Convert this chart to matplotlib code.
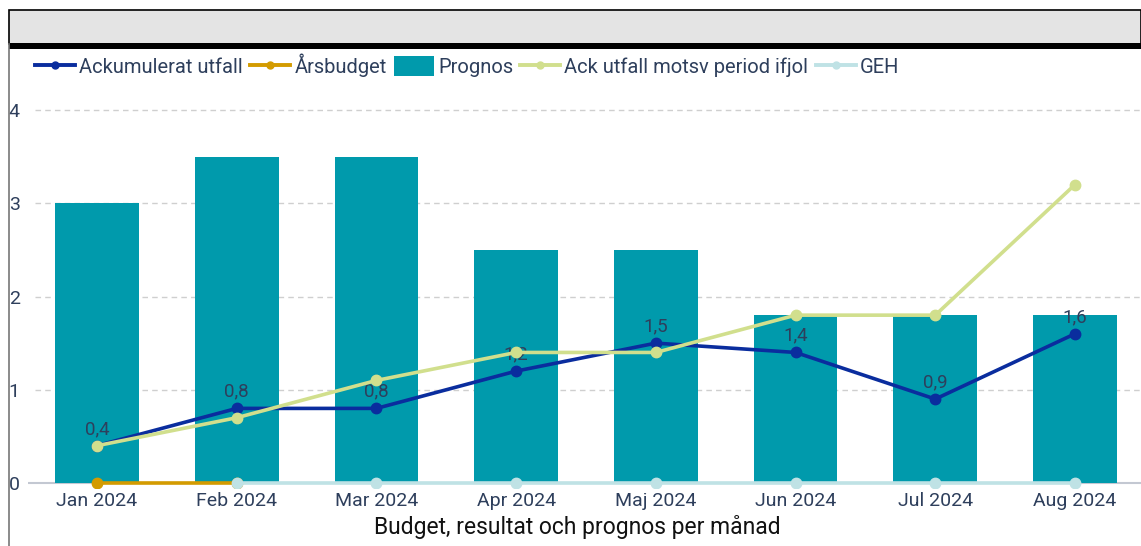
import matplotlib
matplotlib.use("Agg")
import matplotlib.pyplot as plt
import numpy as np
from matplotlib.patches import Rectangle
from matplotlib.lines import Line2D

plt.rcParams['font.family'] = ['Roboto', 'DejaVu Sans']

months = ["Jan 2024", "Feb 2024", "Mar 2024", "Apr 2024", "Maj 2024", "Jun 2024", "Jul 2024", "Aug 2024"]
ack_utfall = [0.4, 0.8, 0.8, 1.2, 1.5, 1.4, 0.9, 1.6]
arsbudget = [0, 0, np.nan, np.nan, np.nan, np.nan, np.nan, np.nan]
prognos = [3.0, 3.5, 3.5, 2.5, 2.5, 1.8, 1.8, 1.8]
ack_ifjol = [0.4, 0.7, 1.1, 1.4, 1.4, 1.8, 1.8, 3.2]
geh = [np.nan, 0, 0, 0, 0, 0, 0, 0]

c_navy = "#0a2d9e"
c_gold = "#d39b00"
c_teal = "#009aac"
c_lime = "#d1df8d"
c_lblue = "#bfe2e5"
c_text = "#2e3f5c"

W, H = 1141, 546
fig = plt.figure(figsize=(W / 100, H / 100), dpi=100)

# header box
fig.patches.append(Rectangle((9 / W, 1 - 44 / H), (W - 9) / W, 34 / H, transform=fig.transFigure,
                             facecolor="#e4e4e4", edgecolor="black", linewidth=1.2, zorder=0))
fig.patches.append(Rectangle((9 / W, 1 - 49 / H), (W - 9) / W, 6 / H, transform=fig.transFigure,
                             facecolor="black", edgecolor="none", zorder=1))
fig.lines.append(Line2D([8.5 / W, 8.5 / W], [0, 1 - 44 / H], transform=fig.transFigure,
                        color="#777777", linewidth=1.2))

# axes: y=0 at 483px, y=4 at 110px
y0, y4 = 483, 110
ppu = (y0 - y4) / 4
ymin, ymax = -0.05, 4.1
ax_bottom = y0 + (0 - ymin) * ppu
ax_top = y0 - ymax * ppu
ax_left, ax_right = 28, 1141
ax = fig.add_axes([ax_left / W, 1 - ax_bottom / H, (ax_right - ax_left) / W, (ax_bottom - ax_top) / H])

x = np.arange(len(months))
sp = (1075 - 97) / 7
xmin = -(97 - ax_left) / sp
xmax = 7 + (ax_right - 1075) / sp
ax.set_xlim(xmin, xmax)
ax.set_ylim(ymin, ymax)

ax.bar(x, prognos, width=0.6, color=c_teal, zorder=2)
ax.axhline(0, color="#c3c8d2", linewidth=1.5, zorder=1.5, xmin=0.0)

mk = dict(marker="o", markersize=7.5, linewidth=2.6)
ax.plot(x, arsbudget, color=c_gold, zorder=4, **mk)
ax.plot(x, geh, color=c_lblue, zorder=4.5, **mk)
ax.plot(x, ack_utfall, color=c_navy, zorder=5, **mk)
ax.plot(x, ack_ifjol, color=c_lime, zorder=6, **mk)

for xi, v in zip(x, ack_utfall):
    ax.annotate(f"{v:.1f}".replace(".", ","), (xi, v), xytext=(0, 5.5), textcoords="offset points",
                ha="center", va="bottom", fontsize=13.5, color=c_text, zorder=3)

for yv in [1, 2, 3, 4]:
    ax.axhline(yv, color="#cfcfcf", linestyle=(0, (4, 3)), linewidth=1, zorder=1,
               xmin=(35 - ax_left) / (ax_right - ax_left))

ax.set_yticks([0, 1, 2, 3, 4])
ax.set_xticks(x)
ax.set_xticklabels(months)
ax.tick_params(axis="both", length=0, labelsize=14, labelcolor=c_text)
ax.tick_params(axis="y", pad=6)
ax.tick_params(axis="x", pad=3)
for s in ax.spines.values():
    s.set_visible(False)

fig.text(577 / W, 1 - 527 / H, "Budget, resultat och prognos per månad", ha="center", va="center",
         fontsize=16.5, color="#111111")

# legend
handles = [
    Line2D([], [], color=c_navy, marker="o", markersize=5, linewidth=2.8),
    Line2D([], [], color=c_gold, marker="o", markersize=5, linewidth=2.8),
    Rectangle((0, 0), 1, 1, facecolor=c_teal),
    Line2D([], [], color=c_lime, marker="o", markersize=5, linewidth=2.8),
    Line2D([], [], color=c_lblue, marker="o", markersize=5, linewidth=2.8),
]
labels = ["Ackumulerat utfall", "Årsbudget", "Prognos", "Ack utfall motsv period ifjol", "GEH"]
leg = fig.legend(handles, labels, loc="center left", bbox_to_anchor=(35 / W, 1 - 65 / H), ncol=5,
                 frameon=False, fontsize=14.5, handlelength=2.0, handleheight=1.1, handletextpad=0.2,
                 columnspacing=0.35, borderaxespad=0, borderpad=0)
for t in leg.get_texts():
    t.set_color(c_text)

fig.savefig("out.png", dpi=100)
